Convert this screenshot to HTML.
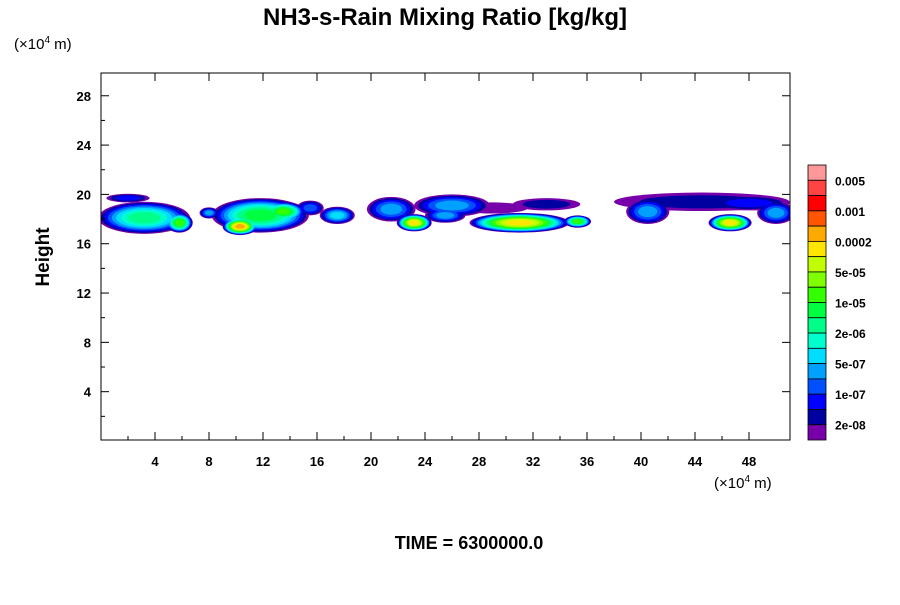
<!DOCTYPE html>
<html><head><meta charset="utf-8"><style>
body{margin:0;background:#fff;}
svg text{font-family:"Liberation Sans",sans-serif;}
</style></head><body>
<svg id="chart" width="900" height="600" xmlns="http://www.w3.org/2000/svg">
<rect width="900" height="600" fill="#fff"/>
<text x="445" y="25" font-size="24" font-weight="bold" text-anchor="middle">NH3-s-Rain Mixing Ratio [kg/kg]</text>
<text x="14" y="49" font-size="15">(×10<tspan font-size="10" dy="-6">4</tspan><tspan dy="6"> m)</tspan></text>
<text x="714" y="488" font-size="15">(×10<tspan font-size="10" dy="-6">4</tspan><tspan dy="6"> m)</tspan></text>
<text transform="translate(49,257) rotate(-90)" font-size="19" font-weight="bold" text-anchor="middle">Height</text>
<text x="469" y="549" font-size="18" font-weight="bold" text-anchor="middle">TIME = 6300000.0</text>
<defs><clipPath id="pc"><rect x="101" y="73" width="689" height="367"/></clipPath></defs>
<g id="field" clip-path="url(#pc)"></g>
<rect x="101" y="73" width="689" height="367" fill="none" stroke="#000" stroke-width="1"/>
<g id="axes"></g>
<g id="cbar"></g>
</svg>
<script>
const xTicks=[4,8,12,16,20,24,28,32,36,40,44,48];
const yTicks=[4,8,12,16,20,24,28];
const cbarColors=["#ff9999","#ff4444","#ff0000","#ff5500","#ffaa00","#ffe600","#bfff00","#80ff00","#33ff00","#00ff40","#00ff88","#00ffcc","#00ddff","#00a0ff","#0050ff","#0000ff","#0000a0","#7700aa"];
const cbarLabels=["0.005","0.001","0.0002","5e-05","1e-05","2e-06","5e-07","1e-07","2e-08"];
// blobs: x center, height center, half-width, half-height, peak level
const blobX=[2,3.2,5.8,8,11.8,10.3,13.5,17.5,21.5,23.2,26,29,31,35.3,44.5,40.5,50,46.6,15.5,25.5,33,48];
const blobY=[19.7,18.1,17.7,18.5,18.3,17.4,18.6,18.3,18.8,17.7,19.1,18.9,17.7,17.8,19.4,18.6,18.5,17.7,18.9,18.3,19.2,19.3];
const blobW=[1.6,3.4,1.0,0.7,3.6,1.3,1.6,1.3,1.8,1.3,2.8,2.6,3.7,1.0,6.5,1.6,1.4,1.6,1.0,1.5,2.5,3.0];
const blobH=[0.35,1.3,0.8,0.45,1.4,0.7,0.8,0.7,1.0,0.7,0.9,0.45,0.8,0.5,0.75,1.0,0.9,0.7,0.6,0.6,0.5,0.6];
const blobLevel=[2,7,9,4,8,13,9,5,4,12,4,0,12,9,1,4,4,12,3,4,1,2];
const NS="http://www.w3.org/2000/svg";
const X=v=>101+v*13.5, Y=v=>441-v*12.33;
const levelColors=cbarColors.slice().reverse();
const field=document.getElementById('field');
const maxL=Math.max(...blobLevel);
for(let k=0;k<=maxL;k++){
  for(let i=0;i<blobX.length;i++){
    if(blobLevel[i]<k) continue;
    const s=Math.sqrt(1-k/(blobLevel[i]+1));
    const e=document.createElementNS(NS,'ellipse');
    
    
    e.setAttribute('cx',X(blobX[i]));e.setAttribute('cy',Y(blobY[i]));
    e.setAttribute('rx',blobW[i]*13.5*s);e.setAttribute('ry',blobH[i]*12.33*s);
    e.setAttribute('fill',levelColors[k]);
    field.appendChild(e);
  }
}
const axes=document.getElementById('axes');
function line(x1,y1,x2,y2,name){const l=document.createElementNS(NS,'line');


l.setAttribute('x1',x1);l.setAttribute('y1',y1);l.setAttribute('x2',x2);l.setAttribute('y2',y2);l.setAttribute('stroke','#000');axes.appendChild(l);}
function text(x,y,s,anchor,name,size){const t=document.createElementNS(NS,'text');


t.setAttribute('x',x);t.setAttribute('y',y);t.setAttribute('text-anchor',anchor);t.setAttribute('font-size',size||13);t.setAttribute('font-weight','bold');t.textContent=s;return t;}
xTicks.forEach(v=>{line(X(v),440,X(v),432,'x-tick');line(X(v),73,X(v),81,'x-tick');line(X(v-2),440,X(v-2),436,'x-minor-tick');axes.appendChild(text(X(v),466,String(v),'middle','x-tick-label'));});
yTicks.forEach(v=>{line(101,Y(v),109,Y(v),'y-tick');line(790,Y(v),782,Y(v),'y-tick');line(101,Y(v-2),105,Y(v-2),'y-minor-tick');axes.appendChild(text(91,Y(v)+5,String(v),'end','y-tick-label'));});
const cb=document.getElementById('cbar');
const bh=275/cbarColors.length;
cbarColors.forEach((c,i)=>{const r=document.createElementNS(NS,'rect');


r.setAttribute('x',808);r.setAttribute('y',165+i*bh);r.setAttribute('width',18);r.setAttribute('height',bh);r.setAttribute('fill',c);r.setAttribute('stroke','#000');r.setAttribute('stroke-width','0.8');cb.appendChild(r);});
cbarLabels.forEach((s,i)=>{cb.appendChild(text(835,165+(2*i+1)*bh+5,s,'start','colorbar-label',12));});
</script>
</body></html>
